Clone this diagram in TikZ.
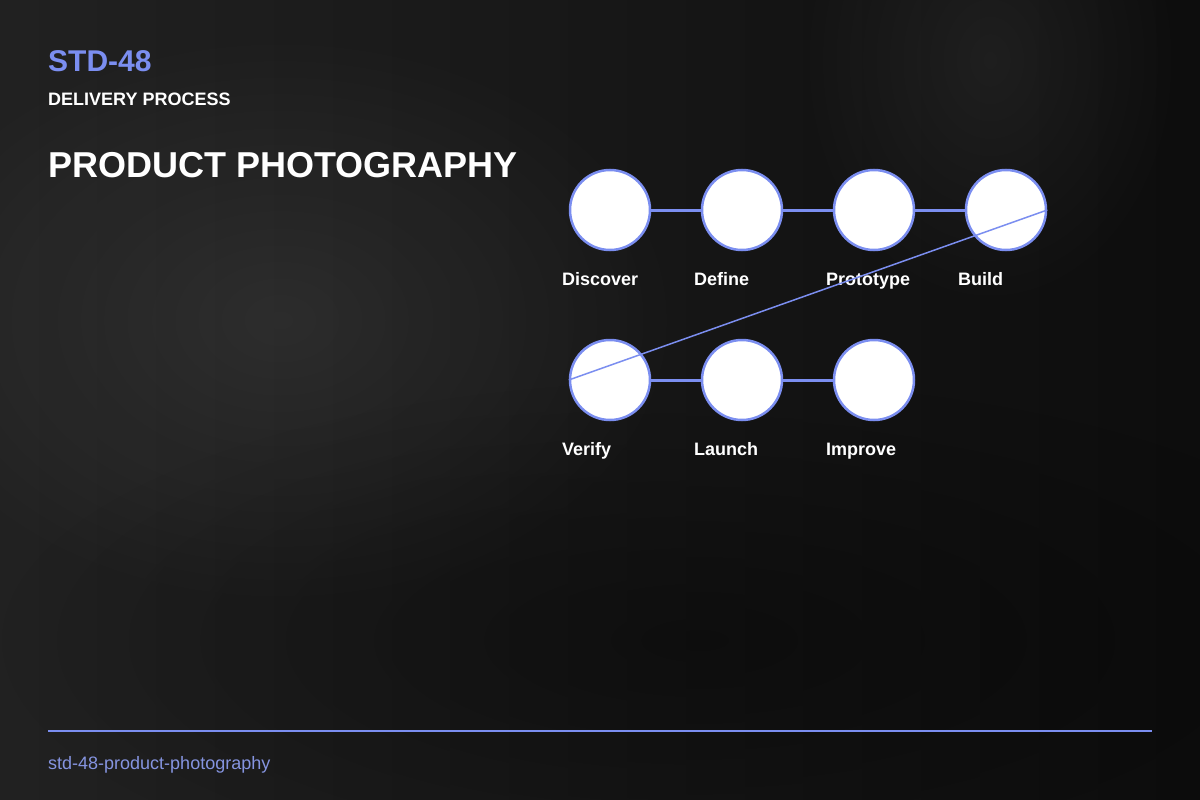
\documentclass[tikz,border=0pt]{standalone}
\usepackage{fontspec}
\setmainfont{Liberation Sans}
\usetikzlibrary{shapes.geometric, arrows, fadings}

\definecolor{accent}{HTML}{7B8EF0}
\definecolor{footblue}{HTML}{8594E0}

\tikzfading[name=glow, inner color=transparent!0, outer color=transparent!100]

\tikzset{
  stage/.style={draw=accent, circle, fill=white, line width=2.5, minimum size=80, inner sep=0},
  link/.style={draw=accent, line width=3},
  lbl/.style={anchor=base west, inner sep=0, text=white, font=\fontsize{18}{20}\selectfont\bfseries}
}

\begin{document}
\begin{tikzpicture}[x=1pt, y=-1pt]
  % background
  \useasboundingbox (0,0) rectangle (1200,800);
  \shade[left color=black!87, right color=black!95] (0,0) rectangle (1200,800);
  \fill[white, opacity=0.07, path fading=glow] (280,320) ellipse (420 and 300);
  \fill[white, opacity=0.06, path fading=glow] (990,60) ellipse (200 and 260);
  \fill[black, opacity=0.35, path fading=glow] (700,640) ellipse (700 and 260);

  % header
  \node[anchor=base west, inner sep=0, text=accent, font=\fontsize{30}{34}\selectfont\bfseries](code) at (48,72) {STD-48};
  \node[anchor=base west, inner sep=0, text=white, font=\fontsize{18}{20}\selectfont\bfseries](kind) at (48,105) {DELIVERY PROCESS};
  \node[anchor=base west, inner sep=0, text=white, font=\fontsize{36}{40}\selectfont\bfseries](title) at (48,177) {PRODUCT PHOTOGRAPHY};

  % stages
  \node[stage](discover)  at (610,210) {};
  \node[stage](define)    at (742,210) {};
  \node[stage](prototype) at (874,210) {};
  \node[stage](build)     at (1006,210) {};
  \node[stage](verify)    at (610,380) {};
  \node[stage](launch)    at (742,380) {};
  \node[stage](improve)   at (874,380) {};

  \draw[link] (discover) -- (define);
  \draw[link] (define) -- (prototype);
  \draw[link] (prototype) -- (build);
  \draw[link] (verify) -- (launch);
  \draw[link] (launch) -- (improve);

  \node[lbl](tdiscover)  at (562,285) {Discover};
  \node[lbl](tdefine)    at (694,285) {Define};
  \node[lbl](tprototype) at (826,285) {Prototype};
  \node[lbl](tbuild)     at (958,285) {Build};
  \node[lbl](tverify)    at (562,455) {Verify};
  \node[lbl](tlaunch)    at (694,455) {Launch};
  \node[lbl](timprove)   at (826,455) {Improve};

  \draw[draw=accent, line width=1.5] (build.east) -- (verify.west);

  % footer
  \coordinate (fl) at (48,731);
  \coordinate (fr) at (1152,731);
  \draw[accent, line width=2] (fl) -- (fr);
  \node[anchor=base west, inner sep=0, text=footblue, font=\fontsize{18}{20}\selectfont](slug) at (48,769) {std-48-product-photography};
\end{tikzpicture}
\end{document}
